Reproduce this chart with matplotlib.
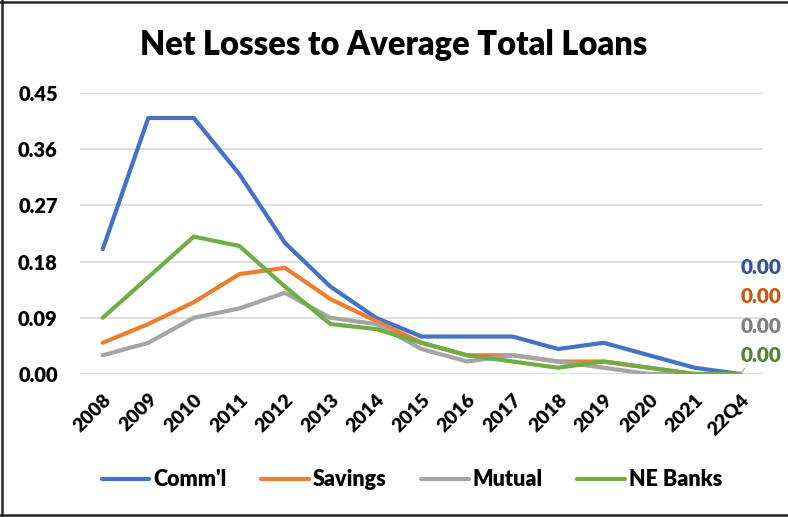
import matplotlib
matplotlib.use("Agg")
import matplotlib.pyplot as plt
from matplotlib.lines import Line2D

categories = ["2008", "2009", "2010", "2011", "2012", "2013", "2014", "2015",
              "2016", "2017", "2018", "2019", "2020", "2021", "22Q4"]
comml = [0.20, 0.41, 0.41, 0.32, 0.21, 0.14, 0.09, 0.06, 0.06, 0.06, 0.04, 0.05, 0.03, 0.01, 0.00]
savings = [0.05, 0.08, 0.115, 0.16, 0.17, 0.12, 0.085, 0.05, 0.03, 0.03, 0.02, 0.02, 0.01, 0.00, 0.00]
mutual = [0.03, 0.05, 0.09, 0.105, 0.13, 0.09, 0.08, 0.04, 0.02, 0.03, 0.02, 0.01, 0.00, 0.00, 0.00]
ne_banks = [0.09, 0.155, 0.22, 0.205, 0.14, 0.08, 0.072, 0.05, 0.03, 0.02, 0.01, 0.02, 0.01, 0.00, 0.00]
series_names = ["Comm'l", "Savings", "Mutual", "NE Banks"]
yticks = [0.00, 0.09, 0.18, 0.27, 0.36, 0.45]

plt.rcParams['font.family'] = ['Lato', 'DejaVu Sans']
W = 'heavy'

fig = plt.figure(figsize=(7.88, 5.17), dpi=100)
ax = fig.add_axes([80/788, 1-374/517, (763-80)/788, (374-93)/517])

line_colors = ["#4472C4", "#ED7D31", "#A5A5A5", "#70AD47"]
label_colors = ["#2F5597", "#C55A11", "#7F7F7F", "#548235"]
series = [comml, savings, mutual, ne_banks]
x = list(range(len(categories)))

for s, name, c in zip(series, series_names, line_colors):
    ax.plot(x, s, color=c, lw=3, label=name, solid_capstyle='round', solid_joinstyle='round')

# data labels at last point
offsets = [(0, 77), (0, 56), (0, 34), (0, 13)]
for i, (s, lc, off) in enumerate(zip(series, label_colors, offsets)):
    kw = {}
    if i == 3:
        kw = dict(arrowprops=dict(arrowstyle='-', color='#A5A5A5', lw=0.8, shrinkA=0, shrinkB=0,
                                  relpos=(0.35, 0.5)))
    ax.annotate(f"{s[-1]:.2f}", xy=(x[-1], s[-1]), xytext=off, textcoords='offset points',
                color=lc, fontsize=15, fontweight=W, ha='left', va='center',
                annotation_clip=False, **kw)

ax.set_xlim(-0.5, len(categories) - 0.5)
ax.set_ylim(0, 0.45)
ax.set_yticks(yticks)
ax.set_yticklabels([f"{v:.2f}" for v in yticks], fontsize=14.5, fontweight=W)
ax.set_xticks(x)
ax.set_xticklabels(categories, rotation=45, ha='right', rotation_mode='anchor',
                   fontsize=14, fontweight=W)
ax.tick_params(axis='both', length=0)
ax.tick_params(axis='y', pad=16)
ax.tick_params(axis='x', pad=12)
ax.grid(axis='y', color='#D9D9D9', lw=1.2)
ax.set_axisbelow(True)
for sp in ax.spines.values():
    sp.set_visible(False)

fig.text(0.5, 1-45/517, "Net Losses to Average Total Loans", ha='center', va='center',
         fontsize=23.5, fontweight=W)

leg = fig.legend(loc='center', bbox_to_anchor=(0.523, 1-480/517), ncol=4, frameon=False,
                 prop={'size': 15.5, 'weight': W}, handlelength=2.2, columnspacing=1.6,
                 handletextpad=0.2)

# outer frame (left, top, bottom)
frame_kw = dict(transform=fig.transFigure, color='#262626', lw=1.8)
fig.lines.append(Line2D([0.002, 0.002], [0.0, 1.0], **frame_kw))
fig.lines.append(Line2D([0.0, 1.0], [0.997, 0.997], **frame_kw))
fig.lines.append(Line2D([0.0, 1.0], [0.003, 0.003], **frame_kw))

fig.savefig("out.png", dpi=100, facecolor='white')
